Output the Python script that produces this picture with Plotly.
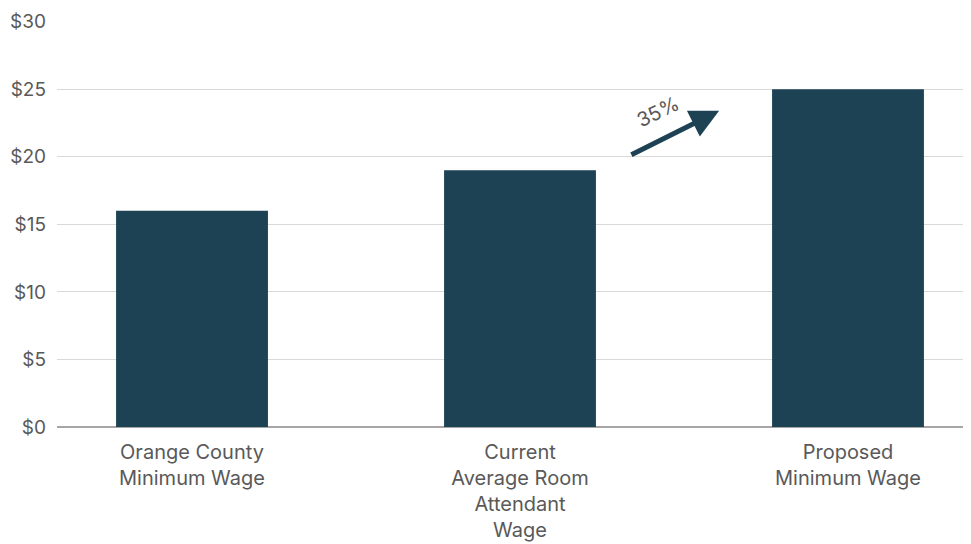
import plotly.graph_objects as go

categories = ["Orange County<br>Minimum Wage",
              "Current<br>Average Room<br>Attendant<br>Wage",
              "Proposed<br>Minimum Wage"]
values = [16, 19, 25]
tick_vals = [0, 5, 10, 15, 20, 25, 30]
tick_text = ["$0", "$5", "$10", "$15", "$20", "$25", "$30"]
increase_label = "35%"

BAR = "#1c4254"
GRAY = "#595959"
FONT = "Inter"
FS = 19

fig = go.Figure()
fig.add_trace(go.Bar(
    x=list(range(len(categories))), y=values,
    marker=dict(color=BAR, line=dict(width=0)),
    width=0.463, hoverinfo="skip",
))

fig.add_annotation(
    x=1.607, y=23.4, ax=1.335, ay=20.1,
    xref="x", yref="y", axref="x", ayref="y",
    showarrow=True, arrowhead=2, arrowsize=1.15, arrowwidth=5,
    arrowcolor=BAR, text="",
)
fig.add_annotation(
    x=1.42, y=23.3, xref="x", yref="y", text=increase_label,
    showarrow=False, textangle=-26,
    font=dict(family=FONT, size=20, color=GRAY),
)

fig.update_layout(
    width=963, height=536,
    margin=dict(l=49, r=0, t=13, b=117),
    plot_bgcolor="white", paper_bgcolor="white",
    showlegend=False,
    font=dict(family=FONT, size=FS, color=GRAY),
    xaxis=dict(
        range=[-0.4116, 2.375],
        tickmode="array", tickvals=list(range(len(categories))),
        ticktext=categories, showgrid=False, zeroline=False,
        showline=False, ticks="", ticklabelstandoff=11,
        tickfont=dict(size=20, color=GRAY),
    ),
    yaxis=dict(
        range=[0, 30.05], tickmode="array", tickvals=tick_vals,
        ticktext=tick_text, showgrid=True, gridcolor="#d9d9d9",
        gridwidth=1, zeroline=True, zerolinecolor="#a6a6a6",
        zerolinewidth=1.5, ticks="", ticklabelstandoff=10,
        tickfont=dict(size=FS, color=GRAY),
    ),
)

fig.write_html("out.html")
